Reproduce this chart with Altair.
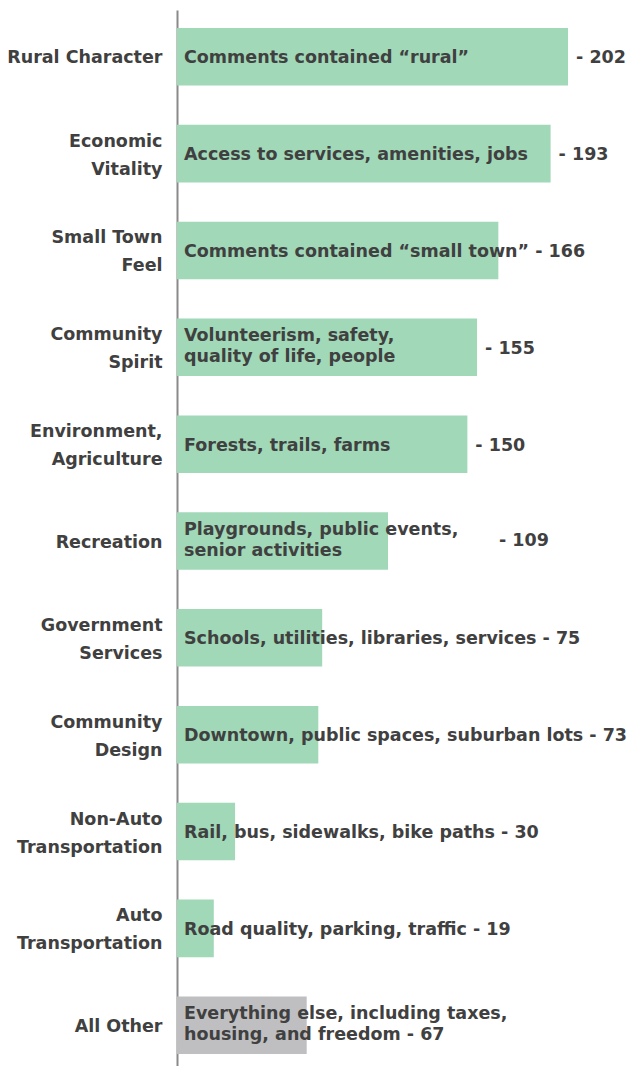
import altair as alt
import pandas as pd

categories = ["Rural Character", "Economic|Vitality", "Small Town|Feel", "Community|Spirit",
              "Environment,|Agriculture", "Recreation", "Government|Services", "Community|Design",
              "Non-Auto|Transportation", "Auto|Transportation", "All Other"]
counts = [202, 193, 166, 155, 150, 109, 75, 73, 30, 19, 67]
descriptions = ["Comments contained \u201crural\u201d",
                "Access to services, amenities, jobs",
                "Comments contained \u201csmall town\u201d - 166",
                "Volunteerism, safety,|quality of life, people",
                "Forests, trails, farms",
                "Playgrounds, public events,|senior activities",
                "Schools, utilities, libraries, services - 75",
                "Downtown, public spaces, suburban lots - 73",
                "Rail, bus, sidewalks, bike paths - 30",
                "Road quality, parking, traffic - 19",
                "Everything else, including taxes,|housing, and freedom - 67"]
value_labels = ["- 202", "- 193", "", "- 155", "- 150", "- 109", "", "", "", "", ""]
groups = ["topic"] * 10 + ["other"]

df = pd.DataFrame({"category": categories, "count": counts, "desc": descriptions,
                   "vlabel": value_labels, "group": groups})

FONT = "DejaVu Sans"
TXT = "#404040"
FS = 17.5

y = alt.Y("category:N", sort=categories, title=None,
          scale=alt.Scale(paddingInner=0.406, paddingOuter=0.186),
          axis=alt.Axis(labelExpr="split(datum.label, '|')", labelFont=FONT, labelFontWeight="bold",
                        labelFontSize=FS, labelColor=TXT, labelLineHeight=28, labelPadding=15,
                        labelOffset={"condition": {"test": "indexof(datum.value, '|') >= 0", "value": -12},
                                     "value": 1.5},
                        ticks=False, domainColor="#8a8a8a", domainWidth=2, grid=False,
                        labelLimit=300))
xscale = alt.Scale(domain=[0, 233.5])
x = alt.X("count:Q", scale=xscale, axis=None)
x0 = alt.X("zero:Q", scale=xscale, axis=None)

base = alt.Chart(df)

bars = base.mark_bar().encode(
    x=x, y=y,
    color=alt.Color("group:N", scale=alt.Scale(domain=["topic", "other"], range=["#a0d8b8", "#bfbfc1"]),
                    legend=None),
)

desc_base = base.transform_calculate(lines="split(datum.desc, '|')", zero="0")

desc_one = desc_base.transform_filter("indexof(datum.desc, '|') < 0").mark_text(
    align="left", baseline="middle", dx=7, dy=1.5, font=FONT, fontWeight="bold", fontSize=FS,
    color=TXT
).encode(x=x0, y=y, text="desc:N")

desc_two = desc_base.transform_filter("indexof(datum.desc, '|') >= 0").mark_text(
    align="left", baseline="middle", dx=7, dy=-11.5, font=FONT, fontWeight="bold", fontSize=FS,
    color=TXT, lineHeight=21
).encode(x=x0, y=y, text="lines:N")

vals_end = base.transform_filter(
    "datum.vlabel != '' && datum.category != 'Recreation'").mark_text(
    align="left", baseline="middle", dx=8, dy=1.5, font=FONT, fontWeight="bold", fontSize=FS, color=TXT
).encode(x=x, y=y, text="vlabel:N")

vals_rec = base.transform_filter("datum.category == 'Recreation'").mark_text(
    align="left", baseline="middle", dx=111, dy=0, font=FONT, fontWeight="bold", fontSize=FS, color=TXT
).encode(x=x, y=y, text="vlabel:N")

chart = alt.layer(bars, desc_one, desc_two, vals_end, vals_rec).properties(
    width=452, height=1062,
    autosize=alt.AutoSizeParams(type="none"),
    padding={"left": 177, "top": 10, "right": 0, "bottom": 0},
).configure_view(stroke=None)

chart.save("out.html", embed_options={"renderer": "svg", "actions": False})
